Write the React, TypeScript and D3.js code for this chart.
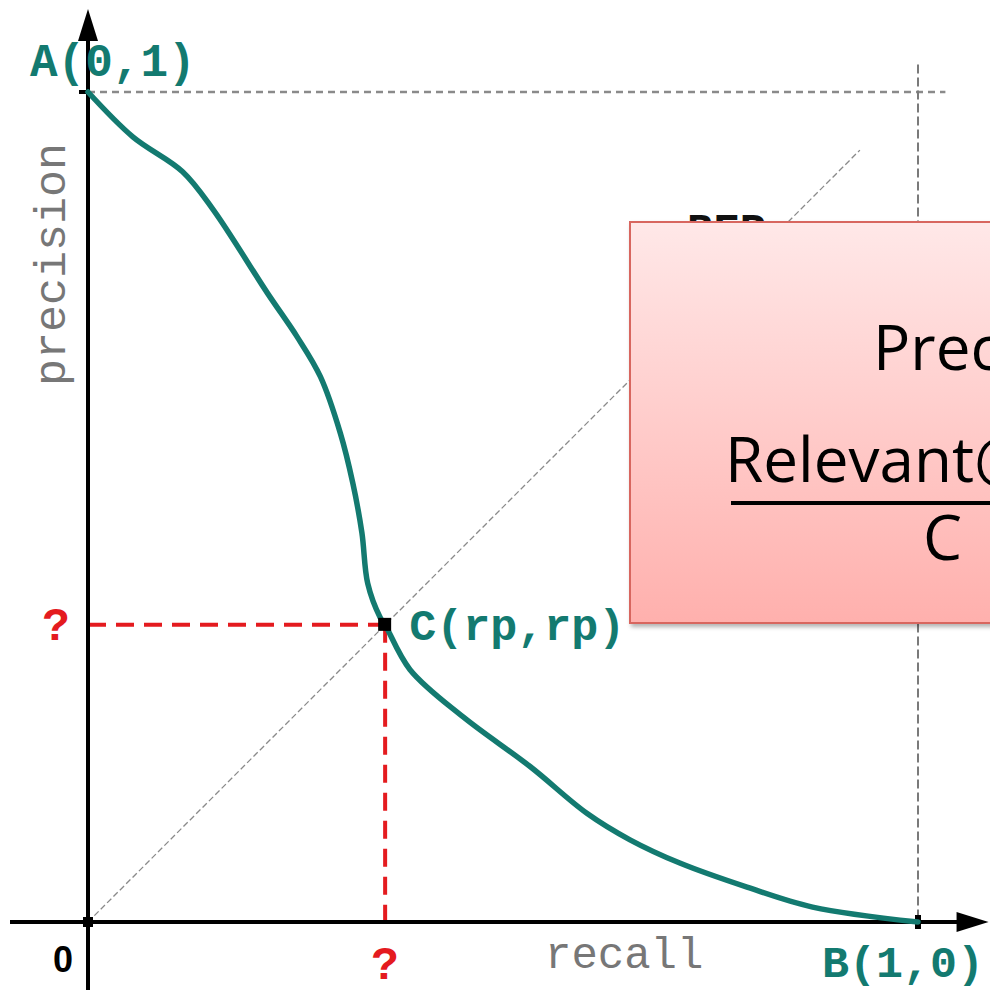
import React from "react";
import * as d3 from "d3";

// precision/recall curve
const recall = [0, 0.054, 0.114, 0.151, 0.216, 0.252, 0.28, 0.304, 0.319, 0.33, 0.337, 0.352, 0.358, 0.388, 0.452, 0.533, 0.601, 0.653, 0.713, 0.794, 0.873, 1];
const precision = [1, 0.946, 0.904, 0.858, 0.758, 0.705, 0.657, 0.589, 0.529, 0.469, 0.408, 0.367, 0.358, 0.304, 0.247, 0.187, 0.131, 0.099, 0.071, 0.042, 0.018, 0];

// break-even point
const rp = 0.358;
const diagonalEnd = 0.93;
const guideEnd = 1.033;

const pointLabels = ["A(0,1)", "B(1,0)", "C(rp,rp)"];
const axisLabels = ["recall", "precision"];
const boxLines = ["Precision", "Relevant@C", "C"];

const W = 990;
const H = 990;
const teal = "#137a70";
const red = "#e41b1f";
const mono = "'Liberation Mono', 'Courier New', monospace";
const sans = "'Open Sans', 'Liberation Sans', sans-serif";

export default function App() {
  const x = d3.scaleLinear().domain([0, 1]).range([88, 918]);
  const y = d3.scaleLinear().domain([0, 1]).range([922, 92]);

  const pts = recall.map((r, i) => [r, precision[i]] as [number, number]);
  const line = d3
    .line<[number, number]>()
    .x((d) => x(d[0]))
    .y((d) => y(d[1]))
    .curve(d3.curveCatmullRom.alpha(0.5));

  const x0 = x(0);
  const y0 = y(0);
  const yTop = y(1.1);
  const xRight = x(1.085);

  return (
    <svg width={W} height={H} style={{ position: "fixed", left: 0, top: 0, background: "#fff" }}>
      <defs>
        <linearGradient id="boxFill" x1="0" y1="0" x2="0" y2="1">
          <stop offset="0%" stopColor="#ffe8e8" />
          <stop offset="100%" stopColor="#ffb0ad" />
        </linearGradient>
        <filter id="shadow" x="-5%" y="-5%" width="115%" height="115%">
          <feDropShadow dx="2" dy="3" stdDeviation="2" floodColor="#000" floodOpacity="0.3" />
        </filter>
      </defs>

      {/* guide lines */}
      <line x1={x0} y1={y(1)} x2={x(guideEnd)} y2={y(1)} stroke="#8a8a8a" strokeWidth={2.5} strokeDasharray="7 5" />
      <line x1={x(1)} y1={y(guideEnd)} x2={x(1)} y2={y0} stroke="#7a7a7a" strokeWidth={2} strokeDasharray="9 4" />
      <line x1={x0} y1={y0} x2={x(diagonalEnd)} y2={y(diagonalEnd)} stroke="#8a8a8a" strokeWidth={1.3} strokeDasharray="6 3" />

      {/* label mostly hidden behind the box */}
      <text x={687} y={244} fontFamily={mono} fontWeight="bold" fontSize={44} fill="#111">BEP</text>

      {/* red projections of C */}
      <line x1={x0} y1={y(rp)} x2={x(rp)} y2={y(rp)} stroke={red} strokeWidth={4} strokeDasharray="18 10" />
      <line x1={x(rp)} y1={y(rp)} x2={x(rp)} y2={y0} stroke={red} strokeWidth={4} strokeDasharray="18 10" />

      {/* axes */}
      <line x1={x0} y1={H} x2={x0} y2={yTop + 20} stroke="#000" strokeWidth={4} />
      <path d={`M${x0},${yTop} L${x0 - 10},${yTop + 32} L${x0 + 10},${yTop + 32} Z`} fill="#000" />
      <line x1={10} y1={y0} x2={xRight - 20} y2={y0} stroke="#000" strokeWidth={4} />
      <path d={`M${xRight},${y0} L${xRight - 32},${y0 - 10} L${xRight - 32},${y0 + 10} Z`} fill="#000" />
      <line x1={x0 - 9} y1={y(1)} x2={x0} y2={y(1)} stroke="#000" strokeWidth={4} />
      <rect x={x0 - 5} y={y0 - 5} width={10} height={10} fill="#000" />
      <rect x={x(1) - 3} y={y0 - 7} width={6} height={14} fill="#000" />

      {/* curve */}
      <path d={line(pts) ?? ""} fill="none" stroke={teal} strokeWidth={5.5} strokeLinecap="round" />
      <rect x={x(rp) - 7} y={y(rp) - 7} width={13} height={13} fill="#000" />

      {/* labels */}
      <text x={30} y={76} fontFamily={mono} fontWeight="bold" fontSize={46} fill={teal}>{pointLabels[0]}</text>
      <text x={822} y={977} fontFamily={mono} fontWeight="bold" fontSize={45} fill={teal}>{pointLabels[1]}</text>
      <text x={x(rp) + 24} y={y(rp) + 15} fontFamily={mono} fontWeight="bold" fontSize={45} fill={teal}>{pointLabels[2]}</text>
      <text x={56} y={y(rp) + 15} textAnchor="middle" fontFamily={mono} fontWeight="bold" fontSize={46} fill={red}>?</text>
      <text x={x(rp)} y={979} textAnchor="middle" fontFamily={mono} fontWeight="bold" fontSize={46} fill={red}>?</text>
      <text x={63} y={972} textAnchor="middle" fontFamily="'Liberation Sans', Arial, sans-serif" fontWeight="bold" fontSize={36} fill="#000">0</text>
      <text x={545} y={968} fontFamily={mono} fontSize={44} fill="#777">{axisLabels[0]}</text>
      <text transform="translate(65,386) rotate(-90)" fontFamily={mono} fontSize={45} fill="#777">{axisLabels[1]}</text>

      {/* pink formula box */}
      <rect x={630} y={222} width={380} height={401} fill="url(#boxFill)" stroke="#d8665f" strokeWidth={2} filter="url(#shadow)" />
      <text x={873} y={370} fontFamily={sans} fontSize={62} fill="#000">{boxLines[0]}</text>
      <text x={725} y={482} fontFamily={sans} fontSize={62} fill="#000">{boxLines[1]}</text>
      <line x1={731} y1={503} x2={1000} y2={503} stroke="#000" strokeWidth={4} />
      <text x={923} y={560} fontFamily={sans} fontSize={62} fill="#000">{boxLines[2]}</text>
    </svg>
  );
}
